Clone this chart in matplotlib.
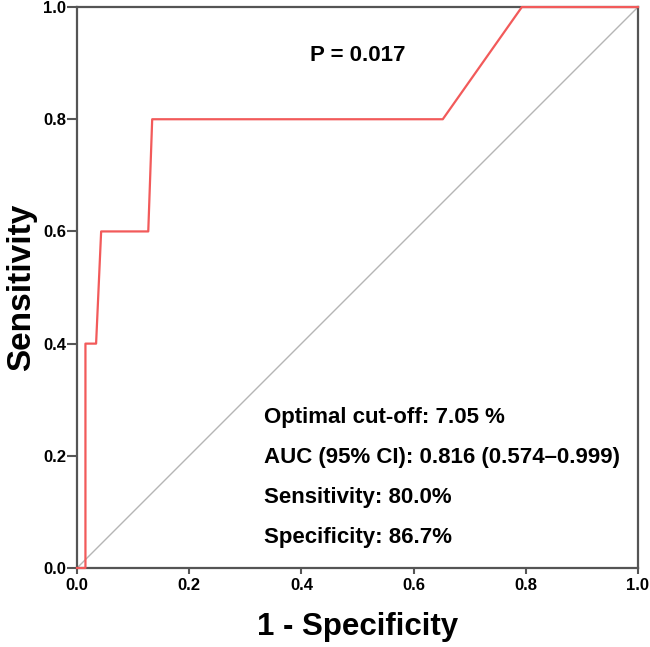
import matplotlib
matplotlib.use('Agg')
import matplotlib.pyplot as plt

# ROC curve points
fpr = [0.0, 0.015, 0.015, 0.034, 0.043, 0.127, 0.134, 0.652, 0.793, 1.0]
tpr = [0.0, 0.0, 0.4, 0.4, 0.6, 0.6, 0.8, 0.8, 1.0, 1.0]
ticks = [0.0, 0.2, 0.4, 0.6, 0.8, 1.0]
tick_labels = ['0.0', '0.2', '0.4', '0.6', '0.8', '1.0']
p_text = 'P = 0.017'
stats_lines = [
    'Optimal cut-off: 7.05 %',
    'AUC (95% CI): 0.816 (0.574\u20130.999)',
    'Sensitivity: 80.0%',
    'Specificity: 86.7%',
]
stats_y = [0.269, 0.197, 0.125, 0.055]

plt.rcParams['font.family'] = ['Liberation Sans', 'DejaVu Sans']

fig = plt.figure(figsize=(6.5, 6.47), dpi=100)
ax = fig.add_axes([0.1185, 0.1221, 0.863, 0.867])

# reference diagonal
ax.plot([0, 1], [0, 1], color='#b5b5b5', linewidth=1.0, zorder=1)
ax.plot(fpr, tpr, color='#f25a5a', linewidth=1.6, zorder=3, clip_on=False)

ax.set_xlim(0, 1)
ax.set_ylim(0, 1)
ax.set_xticks(ticks)
ax.set_yticks(ticks)
ax.set_xticklabels(tick_labels, fontweight='bold', fontsize=12)
ax.set_yticklabels(tick_labels, fontweight='bold', fontsize=12)
ax.tick_params(direction='out', width=1.5, color='#555555')
ax.tick_params(axis='x', length=4, pad=3)
ax.tick_params(axis='y', length=7, pad=1)

for s in ax.spines.values():
    s.set_color('#555555')
    s.set_linewidth(1.6)

ax.set_xlabel('1 - Specificity', fontsize=22.5, fontweight='bold', labelpad=14)
ax.set_ylabel('Sensitivity', fontsize=24, fontweight='bold', labelpad=4)

ax.text(0.5, 0.914, p_text, ha='center', va='center', fontsize=16, fontweight='bold')
for line, y in zip(stats_lines, stats_y):
    ax.text(0.333, y, line, ha='left', va='center', fontsize=16, fontweight='bold')

fig.savefig('out.png', dpi=100)
plt.close(fig)
